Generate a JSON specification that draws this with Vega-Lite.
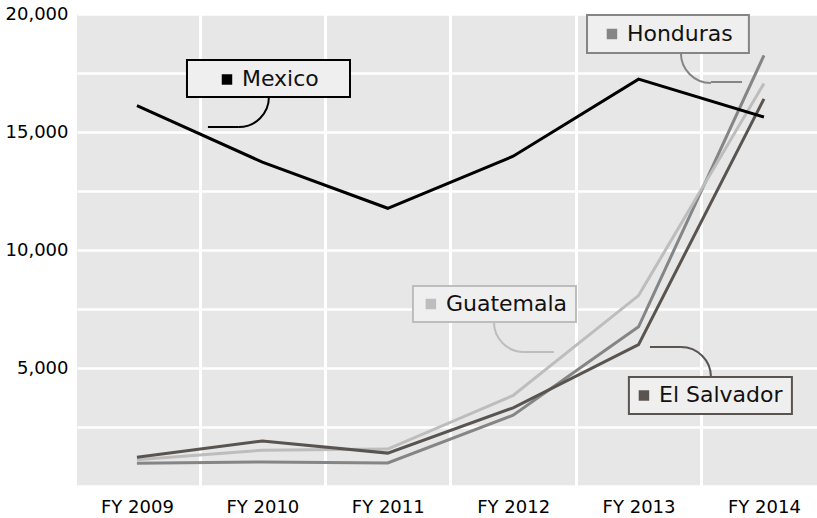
{
  "$schema": "https://vega.github.io/schema/vega-lite/v6.json",
  "width": 740,
  "height": 472,
  "autosize": {"type": "none"},
  "padding": {"left": 77, "top": 14, "right": 0, "bottom": 32},
  "background": "white",
  "config": {"view": {"fill": "#e7e7e7", "stroke": null}, "font": "DejaVu Sans"},
  "datasets": {
    "counts": [
      {"country": "Honduras", "year": 2009, "count": 968},
      {"country": "Honduras", "year": 2010, "count": 1017},
      {"country": "Honduras", "year": 2011, "count": 974},
      {"country": "Honduras", "year": 2012, "count": 2997},
      {"country": "Honduras", "year": 2013, "count": 6747},
      {"country": "Honduras", "year": 2014, "count": 18244},
      {"country": "Guatemala", "year": 2009, "count": 1115},
      {"country": "Guatemala", "year": 2010, "count": 1517},
      {"country": "Guatemala", "year": 2011, "count": 1565},
      {"country": "Guatemala", "year": 2012, "count": 3835},
      {"country": "Guatemala", "year": 2013, "count": 8068},
      {"country": "Guatemala", "year": 2014, "count": 17057},
      {"country": "El Salvador", "year": 2009, "count": 1221},
      {"country": "El Salvador", "year": 2010, "count": 1910},
      {"country": "El Salvador", "year": 2011, "count": 1394},
      {"country": "El Salvador", "year": 2012, "count": 3314},
      {"country": "El Salvador", "year": 2013, "count": 5990},
      {"country": "El Salvador", "year": 2014, "count": 16404},
      {"country": "Mexico", "year": 2009, "count": 16114},
      {"country": "Mexico", "year": 2010, "count": 13724},
      {"country": "Mexico", "year": 2011, "count": 11768},
      {"country": "Mexico", "year": 2012, "count": 13974},
      {"country": "Mexico", "year": 2013, "count": 17240},
      {"country": "Mexico", "year": 2014, "count": 15634}
    ],
    "notes": [
      {"country": "Mexico", "bx1": 2009.399, "bx2": 2010.699, "by1": 16483, "by2": 18051, "mx": 2009.718, "tx": 2009.837, "ty": 17225, "ax": 2009.813, "ay": 16483, "hx1": 2009.566, "hx2": 2009.813, "hy": 15212},
      {"country": "Honduras", "bx1": 2012.589, "bx2": 2013.88, "by1": 18347, "by2": 19958, "mx": 2012.788, "tx": 2012.907, "ty": 19153, "ax": 2013.577, "ay": 18347, "hx1": 2013.577, "hx2": 2013.825, "hy": 17119},
      {"country": "Guatemala", "bx1": 2011.201, "bx2": 2012.501, "by1": 6949, "by2": 8475, "mx": 2011.344, "tx": 2011.464, "ty": 7712, "ax": 2012.086, "ay": 6949, "hx1": 2012.086, "hx2": 2012.325, "hy": 5678},
      {"country": "El Salvador", "bx1": 2012.923, "bx2": 2014.223, "by1": 3051, "by2": 4619, "mx": 2013.043, "tx": 2013.163, "ty": 3835, "ax": 2013.338, "ay": 4619, "hx1": 2013.091, "hx2": 2013.338, "hy": 5890}
    ]
  },
  "layer": [
    {
      "data": {"name": "counts"},
      "mark": {"type": "line", "strokeWidth": 3},
      "encoding": {
        "x": {
          "field": "year", "type": "quantitative",
          "scale": {"domain": [2008.522, 2014.423], "nice": false, "zero": false},
          "axis": {
            "title": null,
            "values": [2009, 2009.5, 2010, 2010.5, 2011, 2011.5, 2012, 2012.5, 2013, 2013.5, 2014],
            "domain": false, "ticks": false,
            "labelExpr": "datum.value % 1 == 0 ? 'FY ' + datum.value : ''",
            "labelFontSize": 18, "labelColor": "#000000", "labelPadding": 12,
            "labelOverlap": false, "labelFlush": false,
            "gridColor": "#ffffff", "gridWidth": 3,
            "gridOpacity": {"condition": {"test": "datum.value % 1 != 0", "value": 1}, "value": 0}
          }
        },
        "y": {
          "field": "count", "type": "quantitative",
          "scale": {"domain": [0, 20000], "nice": false},
          "axis": {
            "title": null,
            "values": [0, 2500, 5000, 7500, 10000, 12500, 15000, 17500, 20000],
            "format": ",d",
            "domain": false, "ticks": false,
            "labelExpr": "datum.value > 0 && datum.value % 5000 == 0 ? datum.label : ''",
            "labelFontSize": 18, "labelColor": "#000000", "labelPadding": 9,
            "labelFlush": false, "labelOverlap": false,
            "gridColor": "#ffffff", "gridWidth": 2.5
          }
        },
        "color": {
          "field": "country", "type": "nominal",
          "scale": {"domain": ["Mexico", "Honduras", "Guatemala", "El Salvador"], "range": ["#000000", "#858585", "#bdbdbd", "#5a5451"]},
          "legend": null
        }
      }
    },
    {
      "data": {"name": "notes"},
      "mark": {"type": "rule", "strokeWidth": 2},
      "encoding": {
        "x": {"field": "hx1", "type": "quantitative"},
        "x2": {"field": "hx2"},
        "y": {"field": "hy", "type": "quantitative"},
        "color": {"field": "country", "type": "nominal", "legend": null}
      }
    },
    {
      "data": {"name": "notes"},
      "transform": [{"filter": {"field": "country", "oneOf": ["Mexico"]}}],
      "mark": {"type": "arc", "filled": false, "strokeWidth": 2, "radius": 30, "radius2": 30, "theta": 1.5708, "theta2": 3.1416},
      "encoding": {
        "x": {"field": "ax", "type": "quantitative"},
        "y": {"field": "ay", "type": "quantitative"},
        "stroke": {"field": "country", "type": "nominal", "scale": {"domain": ["Mexico", "Honduras", "Guatemala", "El Salvador"], "range": ["#000000", "#858585", "#bdbdbd", "#5a5451"]}, "legend": null}
      }
    },
    {
      "data": {"name": "notes"},
      "transform": [{"filter": {"field": "country", "oneOf": ["Honduras", "Guatemala"]}}],
      "mark": {"type": "arc", "filled": false, "strokeWidth": 2, "radius": 30, "radius2": 30, "theta": 3.1416, "theta2": 4.7124},
      "encoding": {
        "x": {"field": "ax", "type": "quantitative"},
        "y": {"field": "ay", "type": "quantitative"},
        "stroke": {"field": "country", "type": "nominal", "legend": null}
      }
    },
    {
      "data": {"name": "notes"},
      "transform": [{"filter": {"field": "country", "oneOf": ["El Salvador"]}}],
      "mark": {"type": "arc", "filled": false, "strokeWidth": 2, "radius": 30, "radius2": 30, "theta": 0, "theta2": 1.5708},
      "encoding": {
        "x": {"field": "ax", "type": "quantitative"},
        "y": {"field": "ay", "type": "quantitative"},
        "stroke": {"field": "country", "type": "nominal", "legend": null}
      }
    },
    {
      "data": {"name": "notes"},
      "mark": {"type": "rect", "fill": "#efefef", "strokeWidth": 2},
      "encoding": {
        "x": {"field": "bx1", "type": "quantitative"},
        "x2": {"field": "bx2"},
        "y": {"field": "by1", "type": "quantitative"},
        "y2": {"field": "by2"},
        "stroke": {"field": "country", "type": "nominal", "legend": null}
      }
    },
    {
      "data": {"name": "notes"},
      "mark": {"type": "point", "shape": "square", "filled": true, "size": 110, "opacity": 1},
      "encoding": {
        "x": {"field": "mx", "type": "quantitative"},
        "y": {"field": "ty", "type": "quantitative"},
        "color": {"field": "country", "type": "nominal", "legend": null}
      }
    },
    {
      "data": {"name": "notes"},
      "mark": {"type": "text", "align": "left", "baseline": "middle", "fontSize": 22, "font": "DejaVu Sans", "color": "#111111"},
      "encoding": {
        "x": {"field": "tx", "type": "quantitative"},
        "y": {"field": "ty", "type": "quantitative"},
        "text": {"field": "country"}
      }
    }
  ]
}
